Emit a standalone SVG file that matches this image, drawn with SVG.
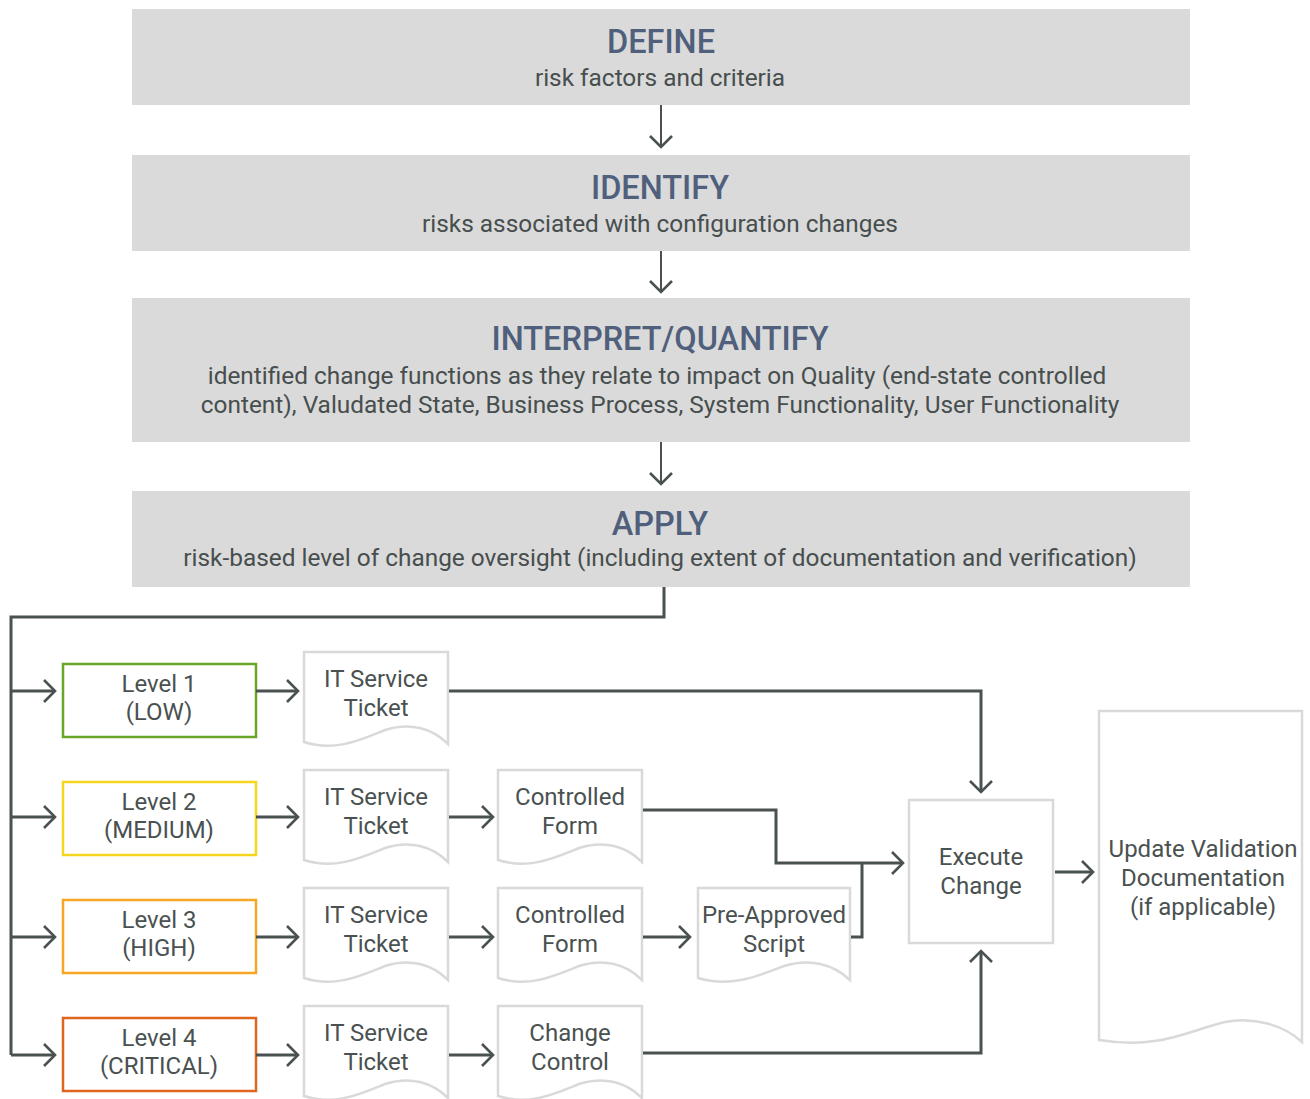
<svg xmlns="http://www.w3.org/2000/svg" width="1310" height="1099" viewBox="0 0 1310 1099">
<defs>
<style>
.band{fill:#dadada}
.ttl{font-family:Roboto,"Liberation Sans",sans-serif;font-size:32.5px;font-weight:500;fill:#4f5f7c;text-anchor:middle}
.sub{font-family:Roboto,"Liberation Sans",sans-serif;font-size:24.4px;fill:#474e4e;text-anchor:middle}
.nt{font-family:Roboto,"Liberation Sans",sans-serif;font-size:24px;fill:#4a5151;text-anchor:middle}
.doc{fill:#fff;stroke:#d9d9d9;stroke-width:2.5}
.lvl{fill:#fff;stroke-width:2.5}
.con{fill:none;stroke:#4a5151;stroke-width:3}
.con2{fill:none;stroke:#4a5151;stroke-width:2}
</style>
<marker id="ah" markerUnits="userSpaceOnUse" markerWidth="16" markerHeight="26" viewBox="0 0 16 26" refX="13" refY="13" orient="auto">
<path d="M2,2 L13,13 L2,24" fill="none" stroke="#4a5151" stroke-width="2.6"/>
</marker>
</defs>
<rect width="1310" height="1099" fill="#fff"/>

<g id="define">
<rect class="band" x="132" y="9" width="1058" height="96"/>
<text class="ttl" x="661" y="53">DEFINE</text>
<text class="sub" x="660" y="86">risk factors and criteria</text>
</g>
<g id="identify">
<rect class="band" x="132" y="155" width="1058" height="96"/>
<text class="ttl" x="660" y="199">IDENTIFY</text>
<text class="sub" x="660" y="232">risks associated with configuration changes</text>
</g>
<g id="interpret">
<rect class="band" x="132" y="298" width="1058" height="144"/>
<text class="ttl" x="660" y="350">INTERPRET/QUANTIFY</text>
<text class="sub" x="657" y="384">identified change functions as they relate to impact on Quality (end-state controlled</text>
<text class="sub" x="660" y="413">content), Valudated State, Business Process, System Functionality, User Functionality</text>
</g>
<g id="apply">
<rect class="band" x="132" y="491" width="1058" height="96"/>
<text class="ttl" x="660" y="535">APPLY</text>
<text class="sub" x="660" y="566">risk-based level of change oversight (including extent of documentation and verification)</text>
</g>

<g id="level1">
<rect class="lvl" x="63" y="664" width="193" height="73" stroke="#67a626"/>
<text class="nt" x="159" y="692">Level 1</text>
<text class="nt" x="159" y="720">(LOW)</text>
</g>
<g id="level2">
<rect class="lvl" x="63" y="782" width="193" height="73" stroke="#f6d51f"/>
<text class="nt" x="159" y="810">Level 2</text>
<text class="nt" x="159" y="838">(MEDIUM)</text>
</g>
<g id="level3">
<rect class="lvl" x="63" y="900" width="193" height="73" stroke="#f6a623"/>
<text class="nt" x="159" y="928">Level 3</text>
<text class="nt" x="159" y="956">(HIGH)</text>
</g>
<g id="level4">
<rect class="lvl" x="63" y="1018" width="193" height="73" stroke="#e0661f"/>
<text class="nt" x="159" y="1046">Level 4</text>
<text class="nt" x="159" y="1074">(CRITICAL)</text>
</g>

<g id="ticket1">
<path class="doc" d="M304,652 H448 V744 C432,728 410,722 385,730 C360,740 335,752 304,742 Z"/>
<text class="nt" x="376" y="687">IT Service</text>
<text class="nt" x="376" y="716">Ticket</text>
</g>
<g id="ticket2">
<path class="doc" d="M304,770 H448 V862 C432,846 410,840 385,848 C360,858 335,870 304,860 Z"/>
<text class="nt" x="376" y="805">IT Service</text>
<text class="nt" x="376" y="834">Ticket</text>
</g>
<g id="ticket3">
<path class="doc" d="M304,888 H448 V980 C432,964 410,958 385,966 C360,976 335,988 304,978 Z"/>
<text class="nt" x="376" y="923">IT Service</text>
<text class="nt" x="376" y="952">Ticket</text>
</g>
<g id="ticket4">
<path class="doc" d="M304,1006 H448 V1098 C432,1082 410,1076 385,1084 C360,1094 335,1106 304,1096 Z"/>
<text class="nt" x="376" y="1041">IT Service</text>
<text class="nt" x="376" y="1070">Ticket</text>
</g>
<g id="form2">
<path class="doc" d="M498,770 H642 V862 C626,846 604,840 579,848 C554,858 529,870 498,860 Z"/>
<text class="nt" x="570" y="805">Controlled</text>
<text class="nt" x="570" y="834">Form</text>
</g>
<g id="form3">
<path class="doc" d="M498,888 H642 V980 C626,964 604,958 579,966 C554,976 529,988 498,978 Z"/>
<text class="nt" x="570" y="923">Controlled</text>
<text class="nt" x="570" y="952">Form</text>
</g>
<g id="script3">
<path class="doc" d="M698,888 H850 V980 C833,964 810,958 784,966 C758,976 731,988 698,978 Z"/>
<text class="nt" x="774" y="923">Pre-Approved</text>
<text class="nt" x="774" y="952">Script</text>
</g>
<g id="changecontrol4">
<path class="doc" d="M498,1006 H642 V1098 C626,1082 604,1076 579,1084 C554,1094 529,1106 498,1096 Z"/>
<text class="nt" x="570" y="1041">Change</text>
<text class="nt" x="570" y="1070">Control</text>
</g>
<g id="execute">
<rect x="909" y="800" width="144" height="143" fill="#fff" stroke="#d9d9d9" stroke-width="2.5"/>
<text class="nt" x="981" y="865">Execute</text>
<text class="nt" x="981" y="894">Change</text>
</g>
<g id="update">
<path class="doc" d="M1099,711 H1302 V1042 C1285,1026 1255,1016 1225,1022 C1190,1030 1160,1050 1099,1040 Z"/>
<text class="nt" x="1203" y="857">Update Validation</text>
<text class="nt" x="1203" y="886">Documentation</text>
<text class="nt" x="1203" y="915">(if applicable)</text>
</g>

<g id="connectors">
<line class="con2" x1="661" y1="105" x2="661" y2="147" marker-end="url(#ah)"/>
<line class="con2" x1="661" y1="251" x2="661" y2="292" marker-end="url(#ah)"/>
<line class="con2" x1="661" y1="442" x2="661" y2="484" marker-end="url(#ah)"/>
<path class="con" d="M664,587 V617 H11 V1055"/>
<line class="con" x1="11" y1="691" x2="55" y2="691" marker-end="url(#ah)"/>
<line class="con" x1="11" y1="817" x2="55" y2="817" marker-end="url(#ah)"/>
<line class="con" x1="11" y1="937" x2="55" y2="937" marker-end="url(#ah)"/>
<line class="con" x1="11" y1="1055" x2="55" y2="1055" marker-end="url(#ah)"/>
<line class="con" x1="256" y1="691" x2="298" y2="691" marker-end="url(#ah)"/>
<line class="con" x1="256" y1="817" x2="298" y2="817" marker-end="url(#ah)"/>
<line class="con" x1="256" y1="937" x2="298" y2="937" marker-end="url(#ah)"/>
<line class="con" x1="256" y1="1055" x2="298" y2="1055" marker-end="url(#ah)"/>
<line class="con" x1="449" y1="817" x2="493" y2="817" marker-end="url(#ah)"/>
<line class="con" x1="449" y1="937" x2="493" y2="937" marker-end="url(#ah)"/>
<line class="con" x1="449" y1="1055" x2="493" y2="1055" marker-end="url(#ah)"/>
<line class="con" x1="643" y1="937" x2="690" y2="937" marker-end="url(#ah)"/>
<path class="con" d="M449,691 H981 V792" marker-end="url(#ah)"/>
<path class="con" d="M643,810 H776 V863 H903" marker-end="url(#ah)"/>
<path class="con" d="M851,937 H862 V863"/>
<path class="con" d="M643,1053 H981 V951" marker-end="url(#ah)"/>
<line class="con" x1="1055" y1="872" x2="1093" y2="872" marker-end="url(#ah)"/>
</g>
</svg>
